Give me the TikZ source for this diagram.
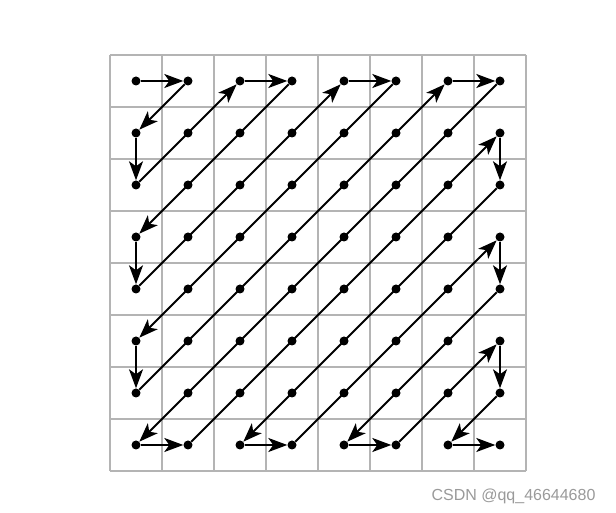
\documentclass[tikz,border=0pt]{standalone}
\usepackage{fontspec}
\setmainfont{Liberation Sans}
\usetikzlibrary{arrows.meta}
\definecolor{gridgray}{HTML}{B4B4B4}
\definecolor{wmgray}{HTML}{9A9A9A}
\tikzset{
  dot/.style={circle,fill=black,inner sep=0pt,minimum size=9pt},
  scan/.style={line width=2pt,-{Stealth[length=19pt,width=14pt,inset=5pt]}},
  cell/.style={draw=gridgray,line width=2pt}
}
\begin{document}
\begin{tikzpicture}[x=1pt,y=1pt]
\useasboundingbox (0,0) rectangle (616,513);
\fill[white] (0,0) rectangle (616,513);
% grid
\foreach \i in {0,...,8}{
  \draw[cell] (110+52*\i,42) -- (110+52*\i,458);
  \draw[cell] (110,42+52*\i) -- (526,42+52*\i);
}
% dots
\foreach \c in {0,...,7}{
  \foreach \r in {0,...,7}{
    \node[dot] (p\c\r) at (136+52*\c,432-52*\r) {};
  }
}
% zigzag scan
\foreach \a/\b in {00/10,10/01,01/02,02/20,20/30,30/03,03/04,04/40,40/50,50/05,05/06,06/60,60/70,70/07,07/17,17/71,71/72,72/27,27/37,37/73,73/74,74/47,47/57,57/75,75/76,76/67,67/77}{
  \draw[scan] (p\a) -- (p\b);
}
\node[text=wmgray,font=\fontsize{16}{18}\selectfont,anchor=east] (wm) at (599,17) {CSDN @qq\_46644680};
\end{tikzpicture}
\end{document}
